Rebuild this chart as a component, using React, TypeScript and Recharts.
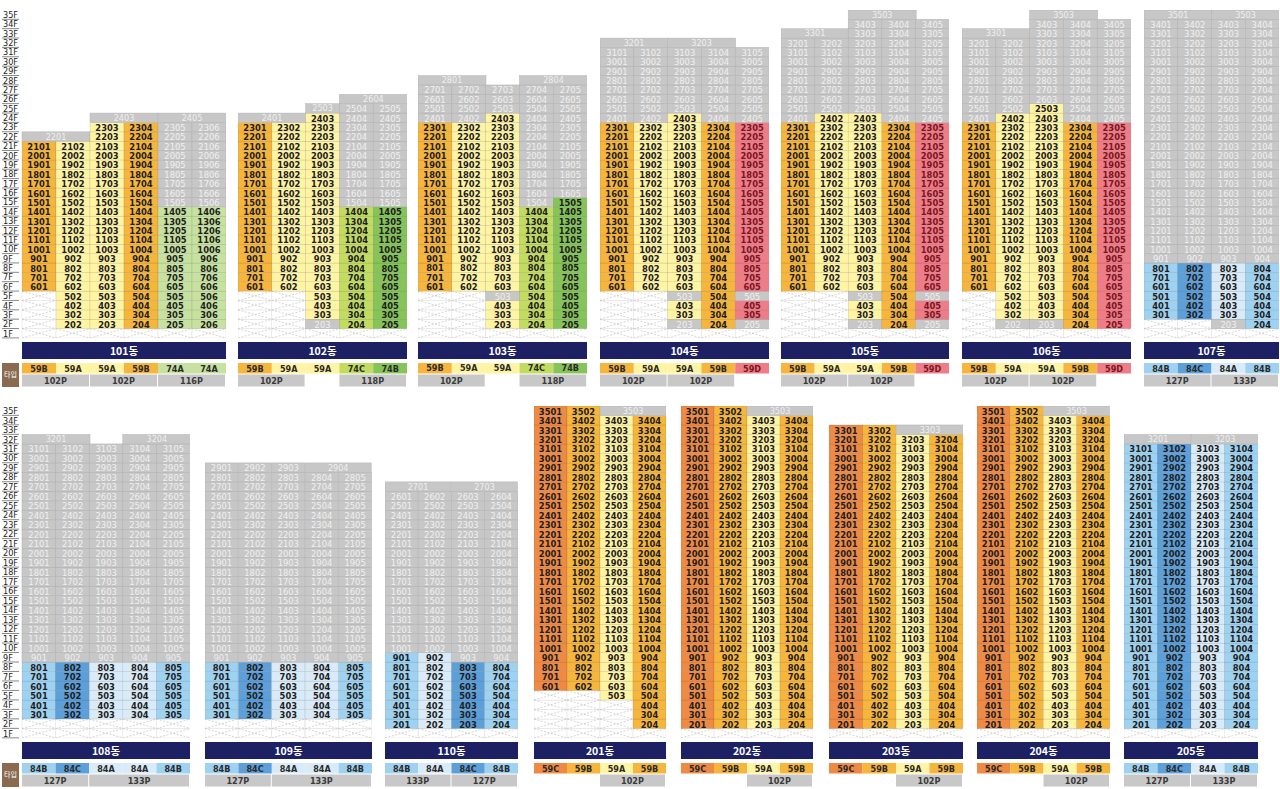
import React from "react";
import { BarChart, Bar, XAxis, YAxis } from "recharts";

// floors drawn on the vertical axis
const FLOORS = [1, 2, 3, 4, 5, 6, 7, 8, 9, 10, 11, 12, 13, 14, 15, 16, 17, 18, 19, 20, 21, 22, 23, 24, 25, 26, 27, 28, 29, 30, 31, 32, 33, 34, 35];

// each line of a building: runs of states from 1F upward
// X = pilotis, C = offered (type colour), G = not offered
const B101_LINES = ["5X 16C", "1X 20C", "1X 22C", "1X 22C", "1X 13C 9G", "1X 13C 9G"];
const B101_TYPES = ["59B", "59A", "59A", "59B", "74A", "74A"];
const B101_CAPS = [[22, 1, 2], [24, 3, 2], [24, 5, 2]];
const B101_PARKS: [number, number, string][] = [[1, 2, "102P"], [3, 2, "102P"], [5, 2, "116P"]];

const B102_LINES = ["5X 18C", "5X 18C", "1X 1G 22C", "1X 13C 11G", "1X 13C 11G"];
const B102_TYPES = ["59B", "59A", "59A", "74C", "74B"];
const B102_CAPS = [[24, 1, 2], [25, 3, 1], [26, 4, 2]];
const B102_PARKS: [number, number, string][] = [[1, 2, "102P"], [4, 2, "118P"]];

const B103_LINES = ["5X 18C 4G", "5X 18C 4G", "1X 3C 1G 19C 3G", "1X 13C 13G", "1X 14C 12G"];
const B103_TYPES = ["59B", "59A", "59A", "74C", "74B"];
const B103_CAPS = [[28, 1, 2], [28, 4, 2]];
const B103_PARKS: [number, number, string][] = [[1, 2, "102P"], [4, 2, "118P"]];

const B104_LINES = ["5X 18C 8G", "5X 18C 8G", "1X 1G 2C 1G 19C 7G", "1X 22C 8G", "1X 1G 2C 1G 18C 8G"];
const B104_TYPES = ["59B", "59A", "59A", "59B", "59D"];
const B104_CAPS = [[32, 1, 2], [32, 3, 2]];
const B104_PARKS: [number, number, string][] = [[1, 2, "102P"], [3, 2, "102P"]];

const B105_LINES = ["5X 18C 9G", "5X 19C 8G", "1X 1G 2C 1G 19C 10G", "1X 22C 11G", "1X 1G 2C 1G 18C 11G"];
const B105_TYPES = ["59B", "59A", "59A", "59B", "59D"];
const B105_CAPS = [[33, 1, 2], [35, 3, 2]];
const B105_PARKS: [number, number, string][] = [[1, 2, "102P"], [3, 2, "102P"]];

const B106_LINES = ["5X 18C 9G", "1X 1G 22C 8G", "1X 1G 23C 9G", "1X 22C 11G", "1X 22C 11G"];
const B106_TYPES = ["59B", "59A", "59A", "59B", "59D"];
const B106_CAPS = [[33, 1, 2], [35, 3, 2]];
const B106_PARKS: [number, number, string][] = [[1, 2, "102P"], [3, 2, "102P"]];

const B107_LINES = ["2X 6C 26G", "2X 6C 26G", "1X 1G 6C 26G", "1X 7C 26G"];
const B107_TYPES = ["84B", "84C", "84A", "84B"];
const B107_CAPS = [[35, 1, 2], [35, 3, 2]];
const B107_PARKS: [number, number, string][] = [[1, 2, "127P"], [3, 2, "133P"]];

const B108_LINES = ["2X 6C 23G", "2X 6C 23G", "2X 6C 23G", "2X 6C 23G", "2X 6C 23G"];
const B108_TYPES = ["84B", "84C", "84A", "84A", "84B"];
const B108_CAPS = [[32, 1, 2], [32, 4, 2]];
const B108_PARKS: [number, number, string][] = [[1, 2, "127P"], [3, 3, "133P"]];

const B109_LINES = ["2X 6C 21G", "2X 6C 21G", "2X 6C 21G", "2X 6C 20G", "2X 6C 20G"];
const B109_TYPES = ["84B", "84C", "84A", "84A", "84B"];
const B109_CAPS = [[29, 4, 2]];
const B109_PARKS: [number, number, string][] = [[1, 2, "127P"], [3, 3, "133P"]];

const B110_LINES = ["1X 8C 17G", "1X 8C 17G", "1X 7C 18G", "1X 7C 18G"];
const B110_TYPES = ["84B", "84A", "84C", "84B"];
const B110_CAPS = [[27, 1, 2], [27, 3, 2]];
const B110_PARKS: [number, number, string][] = [[1, 2, "133P"], [3, 2, "127P"]];

const B201_LINES = ["5X 30C", "5X 30C", "4X 30C", "1X 33C"];
const B201_TYPES = ["59C", "59B", "59A", "59B"];
const B201_CAPS = [[35, 3, 2]];
const B201_PARKS: [number, number, string][] = [[3, 2, "102P"]];

const B202_LINES = ["1X 34C", "1X 34C", "1X 33C", "1X 33C"];
const B202_TYPES = ["59C", "59B", "59A", "59B"];
const B202_CAPS = [[35, 3, 2]];
const B202_PARKS: [number, number, string][] = [[3, 2, "102P"]];

const B203_LINES = ["1X 32C", "1X 32C", "1X 31C", "1X 31C"];
const B203_TYPES = ["59C", "59B", "59A", "59B"];
const B203_CAPS = [[33, 3, 2]];
const B203_PARKS: [number, number, string][] = [[3, 2, "102P"]];

const B204_LINES = ["1X 34C", "1X 34C", "1X 33C", "1X 33C"];
const B204_TYPES = ["59C", "59B", "59A", "59B"];
const B204_CAPS = [[35, 3, 2]];
const B204_PARKS: [number, number, string][] = [[3, 2, "102P"]];

const B205_LINES = ["1X 30C", "1X 30C", "1X 30C", "1X 30C"];
const B205_TYPES = ["84B", "84C", "84A", "84B"];
const B205_CAPS = [[32, 1, 2], [32, 3, 2]];
const B205_PARKS: [number, number, string][] = [[1, 2, "127P"], [3, 2, "133P"]];

const TYPE_COLORS: Record<string, string> = {
  "59A": "#fff3a4",
  "59B": "#f6b53c",
  "59C": "#ef8a45",
  "59D": "#ee7d88",
  "74A": "#c6e1a0",
  "74B": "#86c45a",
  "74C": "#c2dc62",
  "84A": "#d9ebf8",
  "84B": "#9fd2f1",
  "84C": "#5d9fd9",
};
const GRAY = "#c7c7c7";
const NAVY = "#1d2163";
const NUM_FONT = "'DejaVu Sans Condensed', 'Liberation Sans Narrow', 'Roboto', sans-serif";
const KR_FONT = "'Noto Sans CJK KR', 'Noto Sans', sans-serif";

type Building = {
  name: string;
  lines: string[];
  types: string[];
  caps: number[][];
  parks: [number, number, string][];
  row: number;
  x0: number;
  x1: number;
  axis?: boolean;
};

const BUILDINGS: Building[] = [
  { name: "101동", lines: B101_LINES, types: B101_TYPES, caps: B101_CAPS, parks: B101_PARKS, row: 0, x0: 22, x1: 226, axis: true },
  { name: "102동", lines: B102_LINES, types: B102_TYPES, caps: B102_CAPS, parks: B102_PARKS, row: 0, x0: 237.5, x1: 406.5 },
  { name: "103동", lines: B103_LINES, types: B103_TYPES, caps: B103_CAPS, parks: B103_PARKS, row: 0, x0: 418.3, x1: 587.5 },
  { name: "104동", lines: B104_LINES, types: B104_TYPES, caps: B104_CAPS, parks: B104_PARKS, row: 0, x0: 599.5, x1: 768.5 },
  { name: "105동", lines: B105_LINES, types: B105_TYPES, caps: B105_CAPS, parks: B105_PARKS, row: 0, x0: 781, x1: 949 },
  { name: "106동", lines: B106_LINES, types: B106_TYPES, caps: B106_CAPS, parks: B106_PARKS, row: 0, x0: 961.7, x1: 1130.7 },
  { name: "107동", lines: B107_LINES, types: B107_TYPES, caps: B107_CAPS, parks: B107_PARKS, row: 0, x0: 1144, x1: 1279 },
  { name: "108동", lines: B108_LINES, types: B108_TYPES, caps: B108_CAPS, parks: B108_PARKS, row: 1, x0: 22, x1: 190, axis: true },
  { name: "109동", lines: B109_LINES, types: B109_TYPES, caps: B109_CAPS, parks: B109_PARKS, row: 1, x0: 205, x1: 372 },
  { name: "110동", lines: B110_LINES, types: B110_TYPES, caps: B110_CAPS, parks: B110_PARKS, row: 1, x0: 385, x1: 518 },
  { name: "201동", lines: B201_LINES, types: B201_TYPES, caps: B201_CAPS, parks: B201_PARKS, row: 1, x0: 534, x1: 666 },
  { name: "202동", lines: B202_LINES, types: B202_TYPES, caps: B202_CAPS, parks: B202_PARKS, row: 1, x0: 681, x1: 813 },
  { name: "203동", lines: B203_LINES, types: B203_TYPES, caps: B203_CAPS, parks: B203_PARKS, row: 1, x0: 829, x1: 963 },
  { name: "204동", lines: B204_LINES, types: B204_TYPES, caps: B204_CAPS, parks: B204_PARKS, row: 1, x0: 977, x1: 1110 },
  { name: "205동", lines: B205_LINES, types: B205_TYPES, caps: B205_CAPS, parks: B205_PARKS, row: 1, x0: 1124, x1: 1258 },
];

const ROW_TOP = [10, 406];
const ROW_PLOT_H = [328, 332];
const FOOTER_H = 50;
const AXIS_W = 22;

const decode = (spec: string): string[] =>
  spec.split(" ").flatMap((tok) => {
    const n = parseInt(tok, 10);
    const c = tok.slice(String(n).length);
    return Array(n).fill(c);
  });

const capAt = (b: Building, f: number, line: number) =>
  b.caps.find((c) => c[0] === f && line >= c[1] && line < c[1] + c[2]);

function buildRows(b: Building) {
  return b.lines.map((spec, i) => {
    const states = decode(spec);
    const row: Record<string, any> = { line: i + 1, key: String(i + 1), states };
    FLOORS.forEach((f) => {
      row[`f${f}`] = f <= states.length || capAt(b, f, i + 1) ? 1 : 0;
    });
    return row;
  });
}

function unitShape(p: any, f: number, b: Building) {
  const { x, y, width, height, payload } = p;
  if (!height || height <= 0 || !payload) return <g />;
  const line: number = payload.line;
  const cap = capAt(b, f, line);
  const cy = y + height / 2;
  if (cap) {
    if (cap[1] !== line) return <g />;
    const w = width * cap[2];
    return (
      <g>
        <rect x={x} y={y} width={w} height={height} fill={GRAY} stroke="#b3b3b3" strokeWidth={0.5} />
        <text x={x + w / 2} y={cy} textAnchor="middle" dominantBaseline="central" fontSize={9} fontFamily={NUM_FONT} fill="#efefef">
          {f * 100 + line}
        </text>
      </g>
    );
  }
  const st = payload.states[f - 1];
  if (st === "X") {
    return (
      <g>
        <rect x={x} y={y} width={width} height={height} fill="#ffffff" stroke="#dddddd" strokeWidth={0.5} />
        <line x1={x} y1={y} x2={x + width} y2={y + height} stroke="#b8b8b8" strokeWidth={0.6} strokeDasharray="2 1.5" />
        <line x1={x} y1={y + height} x2={x + width} y2={y} stroke="#b8b8b8" strokeWidth={0.6} strokeDasharray="2 1.5" />
      </g>
    );
  }
  const type = b.types[line - 1];
  const gray = st === "G";
  const fill = gray ? GRAY : TYPE_COLORS[type];
  const txt = gray ? "#f0f0f0" : type === "59D" ? "#7a1522" : "#1e1e1e";
  return (
    <g>
      <rect x={x} y={y} width={width} height={height} fill={fill} stroke={gray ? "#b0b0b0" : "rgba(0,0,0,0.16)"} strokeWidth={0.5} />
      <text
        x={x + width / 2}
        y={cy + 0.3}
        textAnchor="middle"
        dominantBaseline="central"
        fontSize={9.3}
        fontWeight={gray ? 400 : 700}
        fontFamily={NUM_FONT}
        fill={txt}
      >
        {f * 100 + line}
      </text>
    </g>
  );
}

function FooterTick(props: any) {
  const { x, index, b, cw, plotH } = props;
  const n = b.lines.length;
  const left = x - cw / 2;
  const type = b.types[index];
  const park = b.parks.find((pk: [number, number, string]) => pk[0] === index + 1);
  return (
    <g>
      {index === 0 && (
        <g>
          <rect x={left} y={plotH + 4} width={n * cw} height={17} fill={NAVY} />
          <text x={left + (n * cw) / 2} y={plotH + 12.8} textAnchor="middle" dominantBaseline="central" fontSize={10.5} fontWeight={700} fontFamily={KR_FONT} fill="#ffffff">
            {b.name}
          </text>
        </g>
      )}
      <rect x={left} y={plotH + 25} width={cw} height={10.5} fill={TYPE_COLORS[type]} />
      <text x={x} y={plotH + 30.5} textAnchor="middle" dominantBaseline="central" fontSize={9} fontWeight={700} fontFamily={NUM_FONT} fill={type === "59D" ? "#7a1522" : "#2a2a2a"}>
        {type}
      </text>
      {park && (
        <g>
          <rect x={left} y={plotH + 36.5} width={park[1] * cw - 1} height={12} fill="#c8c8c8" />
          <text x={left + (park[1] * cw - 1) / 2} y={plotH + 42.8} textAnchor="middle" dominantBaseline="central" fontSize={9} fontWeight={700} fontFamily={NUM_FONT} fill="#3a3a3a">
            {park[2]}
          </text>
        </g>
      )}
    </g>
  );
}

function FloorTick(props: any) {
  const { y, payload } = props;
  const f = Math.round(payload.value + 0.5);
  return (
    <g>
      <text x={3} y={y + 0.3} dominantBaseline="central" fontSize={9} fontFamily={NUM_FONT} fill="#222">
        {`${f}F`}
      </text>
      <line x1={2} x2={19} y1={y + 4.6} y2={y + 4.6} stroke="#555" strokeWidth={0.7} />
    </g>
  );
}

function BuildingChart({ b }: { b: Building }) {
  const n = b.lines.length;
  const cw = (b.x1 - b.x0) / n;
  const axisW = b.axis ? AXIS_W : 0;
  const plotH = ROW_PLOT_H[b.row];
  const rows = buildRows(b);
  return (
    <div style={{ position: "absolute", left: b.x0 - axisW, top: ROW_TOP[b.row] }}>
      <BarChart
        width={n * cw + axisW}
        height={plotH + FOOTER_H}
        data={rows}
        margin={{ top: 0, right: 0, bottom: 0, left: 0 }}
        barCategoryGap={0}
        barGap={0}
      >
        <XAxis
          dataKey="key"
          type="category"
          height={FOOTER_H}
          interval={0}
          axisLine={false}
          tickLine={false}
          tick={(p: any) => <FooterTick {...p} b={b} cw={cw} plotH={plotH} />}
        />
        <YAxis
          type="number"
          domain={[0, 35]}
          allowDataOverflow
          hide={!b.axis}
          width={axisW}
          axisLine={false}
          tickLine={false}
          ticks={FLOORS.map((f) => f - 0.5)}
          interval={0}
          tick={(p: any) => <FloorTick {...p} />}
        />
        {FLOORS.map((f) => (
          <Bar
            key={f}
            dataKey={`f${f}`}
            stackId="u"
            isAnimationActive={false}
            shape={(p: any) => unitShape(p, f, b)}
          />
        ))}
      </BarChart>
    </div>
  );
}

export default function App() {
  return (
    <div style={{ position: "absolute", left: 0, top: 0, width: 1280, height: 789, background: "#ffffff", overflow: "hidden" }}>
      {BUILDINGS.map((b) => (
        <BuildingChart key={b.name} b={b} />
      ))}
      {[0, 1].map((r) => (
        <div
          key={r}
          style={{
            position: "absolute",
            left: 2,
            top: ROW_TOP[r] + ROW_PLOT_H[r] + 25,
            width: 17,
            height: 23.5,
            background: "#8a6b4f",
            color: "#fff",
            fontFamily: KR_FONT,
            fontSize: 7,
            lineHeight: "23.5px",
            textAlign: "center",
          }}
        >
          타입
        </div>
      ))}
    </div>
  );
}
